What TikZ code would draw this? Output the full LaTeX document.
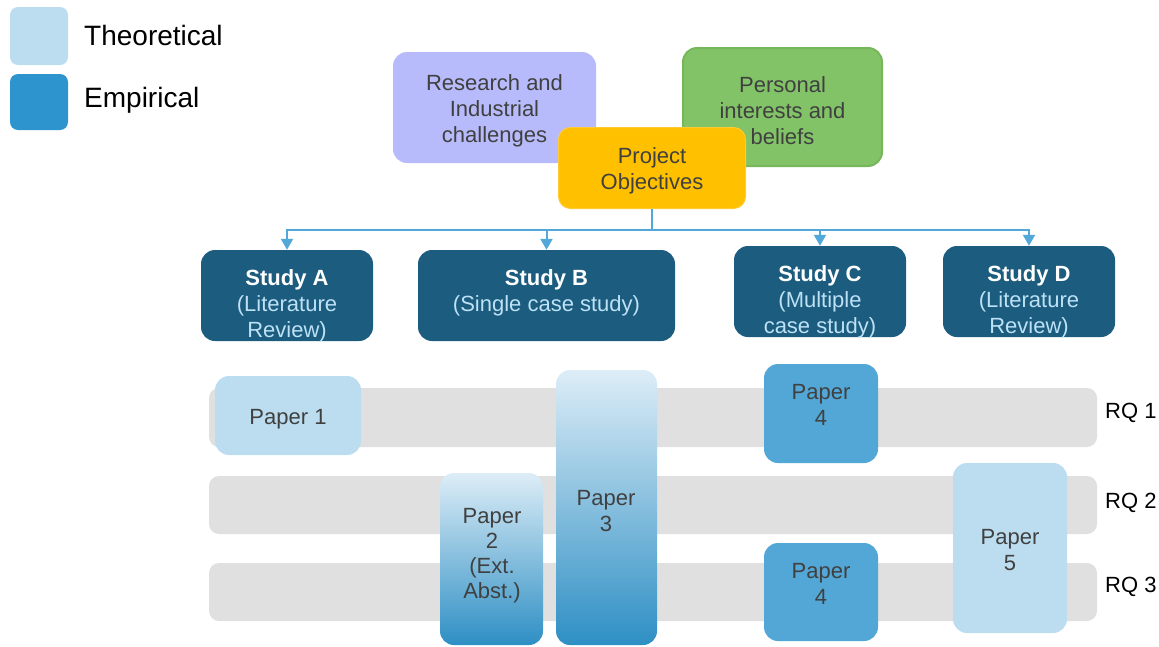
\documentclass[tikz,border=0pt]{standalone}
\usepackage{fontspec}
\setmainfont{Liberation Sans}
\usetikzlibrary{arrows.meta}
\definecolor{theo}{HTML}{BBDDEF}
\definecolor{empi}{HTML}{2E94CE}
\definecolor{research}{HTML}{B8BBFB}
\definecolor{personal}{HTML}{82C368}
\definecolor{personalb}{HTML}{77B75B}
\definecolor{project}{HTML}{FFC000}
\definecolor{projectb}{HTML}{FFCB33}
\definecolor{study}{HTML}{1B5C7F}
\definecolor{studysub}{HTML}{BDE1F5}
\definecolor{paperemp}{HTML}{53A7D6}
\definecolor{bar}{HTML}{E0E0E0}
\definecolor{txtgray}{HTML}{404040}
\definecolor{conn}{HTML}{52A8D8}
\definecolor{gradtop}{HTML}{DDEDF7}
\definecolor{gradmid}{HTML}{A8D0E8}
\definecolor{gradbot}{HTML}{2E8FC4}
\begin{document}
\begin{tikzpicture}[x=1pt,y=-1pt,
  rbox/.style={draw=none, inner sep=0pt, rounded corners=14pt},
  txt/.style={font=\fontsize{22}{26}\selectfont, text=txtgray, align=center, inner sep=0pt, yshift=-2pt},
  legtxt/.style={font=\fontsize{28}{32}\selectfont, text=black, anchor=west, inner sep=0pt, yshift=-2.5pt},
  rqtxt/.style={font=\fontsize{22}{26}\selectfont, text=black, anchor=west, inner sep=0pt, yshift=-2pt},
  studytxt/.style={font=\fontsize{22}{26}\selectfont, text=studysub, align=center, inner sep=0pt, yshift=-2.5pt},
  studybox/.style={rbox, fill=study, minimum width=172pt, minimum height=91pt},
  barbox/.style={draw=none, fill=bar, rounded corners=10pt, minimum width=888pt, minimum height=58pt},
  theobox/.style={rbox, fill=theo},
  empibox/.style={rbox, fill=paperemp},
  gradbox/.style={rbox, top color=gradtop, middle color=gradmid, bottom color=gradbot},
  connector/.style={draw=conn, line width=2pt, -{Triangle[width=12pt,length=11pt]}}
]
\useasboundingbox (0,0) rectangle (1159,646);

% legend
\node[rbox, rounded corners=8pt, fill=theo, minimum width=58pt, minimum height=58pt] (legtheo) at (39,36) {};
\node[rbox, rounded corners=8pt, fill=empi, minimum width=58pt, minimum height=56pt] (legempi) at (39,102) {};
\node[legtxt] (legtheot) at (84,33) {Theoretical};
\node[legtxt] (legempit) at (84,98) {Empirical};

% top boxes
\node[rbox, fill=research, minimum width=203pt, minimum height=111pt] (research) at (494.5,107.5) {};
\node[rbox, fill=personal, draw=personalb, line width=2pt, minimum width=199pt, minimum height=118pt] (personal) at (782.5,107) {};
\node[txt] (researcht) at (494.5,108.5) {Research and\\Industrial\\challenges};
\node[txt] (personalt) at (782.5,108.5) {Personal\\interests and\\beliefs};
\node[rbox, rounded corners=12pt, fill=project, draw=projectb, line width=1pt, minimum width=187pt, minimum height=81pt] (project) at (652,168) {};
\node[txt] (projectt) at (652,168.5) {Project\\Objectives};

% studies
\node[studybox] (studyA) at (287,295.5) {};
\node[studybox, minimum width=257pt] (studyB) at (546.5,295.5) {};
\node[studybox] (studyC) at (820,291.5) {};
\node[studybox] (studyD) at (1029,291.5) {};
\node[studytxt] (studyAt) at (287,303.5) {\textcolor{white}{\textbf{Study A}}\\(Literature\\Review)};
\node[studytxt] (studyBt) at (546.5,290.5) {\textcolor{white}{\textbf{Study B}}\\(Single case study)};
\node[studytxt] (studyCt) at (820,299.5) {\textcolor{white}{\textbf{Study C}}\\(Multiple\\case study)};
\node[studytxt] (studyDt) at (1029,299.5) {\textcolor{white}{\textbf{Study D}}\\(Literature\\Review)};

% connectors
\coordinate (split) at (652,230);
\draw[connector] (project.south) -- (split) -| (studyA.north);
\draw[connector] (project.south) -- (split) -| (studyB.north);
\draw[connector] (project.south) -- (split) -| (studyC.north);
\draw[connector] (project.south) -- (split) -| (studyD.north);

% RQ bars
\node[barbox, minimum height=59pt] (rq1) at (653,417.5) {};
\node[barbox] (rq2) at (653,505) {};
\node[barbox] (rq3) at (653,592) {};
\node[rqtxt] (rq1t) at (1105,411) {RQ 1};
\node[rqtxt] (rq2t) at (1105,501) {RQ 2};
\node[rqtxt] (rq3t) at (1105,585) {RQ 3};

% papers
\node[theobox, minimum width=146pt, minimum height=79pt] (p1) at (288,415.5) {};
\node[gradbox, minimum width=103pt, minimum height=172pt] (p2) at (491.5,559) {};
\node[gradbox, minimum width=101pt, minimum height=275pt] (p3) at (606.5,507.5) {};
\node[empibox, minimum width=114pt, minimum height=99pt] (p4a) at (821,413.5) {};
\node[empibox, minimum width=114pt, minimum height=98pt] (p4b) at (821,592) {};
\node[theobox, minimum width=114pt, minimum height=170pt] (p5) at (1010,548) {};

\node[txt] (p1t) at (288,417) {Paper 1};
\node[txt, font=\fontsize{22}{25}\selectfont] (p2t) at (492,554) {Paper\\2\\(Ext.\\Abst.)};
\node[txt] (p3t) at (606,509.5) {Paper\\3};
\node[txt] (p4at) at (821,403) {Paper\\4};
\node[txt] (p4bt) at (821,582) {Paper\\4};
\node[txt] (p5t) at (1010,548) {Paper\\5};
\end{tikzpicture}
\end{document}
